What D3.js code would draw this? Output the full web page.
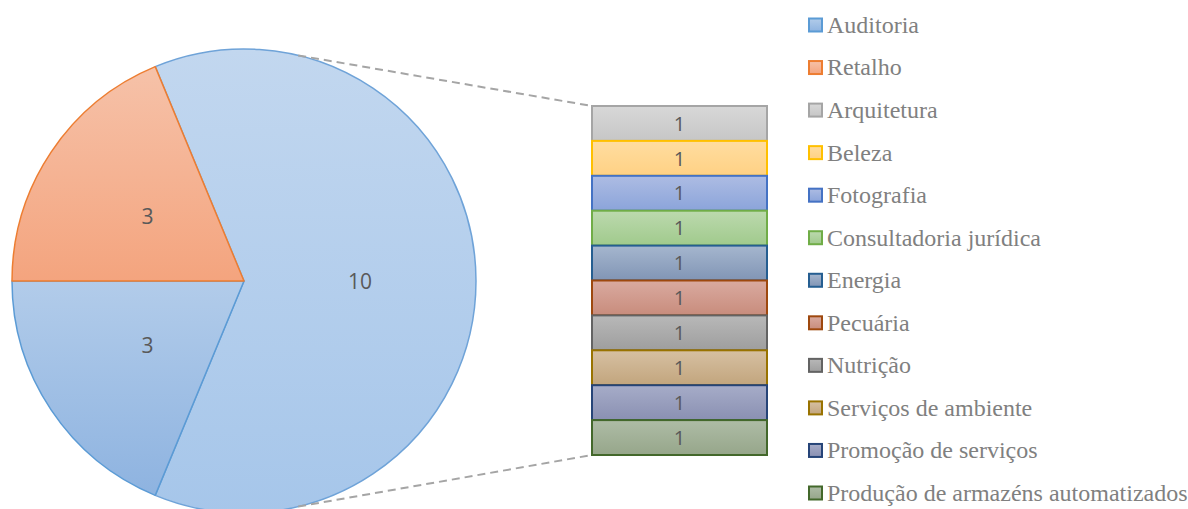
<!DOCTYPE html>
<html>
<head>
<meta charset="utf-8">
<script src="https://cdn.jsdelivr.net/npm/d3@7"></script>
<style>
  html, body { margin: 0; padding: 0; background: #fff; }
  svg { display: block; }
  .lbl { font-family: "Open Sans", "Noto Sans", sans-serif; fill: #595959; }
  .leg { font-family: "Liberation Serif", "DejaVu Serif", serif; font-size: 24px; fill: #808080; }
</style>
</head>
<body>
<div id="root"></div>
<script>
const svgWidth = 1188;
const svgHeight = 509;

// data
const categories = ["Auditoria", "Retalho", "Arquitetura", "Beleza", "Fotografia",
  "Consultadoria jurídica", "Energia", "Pecuária", "Nutrição",
  "Serviços de ambiente", "Promoção de serviços", "Produção de armazéns automatizados"];
const values = [3, 3, 1, 1, 1, 1, 1, 1, 1, 1, 1, 1];
const splitCount = 10; // last 10 go into the bar

// Office palette: stroke colour, gradient top, gradient bottom
const strokeColors = ["#5B9BD5", "#ED7D31", "#A5A5A5", "#FFC000", "#4472C4", "#70AD47",
  "#255E91", "#9E480E", "#636363", "#997300", "#264478", "#43682B"];
const fillTop = ["#B2CCEA", "#F6C2A9", "#D8D8D8", "#FFDDA0", "#ADBCE3", "#BCD9AE",
  "#A5B6CE", "#D9AAA0", "#B8B8B8", "#D6C0A2", "#A6ACC8", "#AEBCA6"];
const fillBottom = ["#8EB3E0", "#F4A47E", "#C6C6C6", "#FFD184", "#8BA4DA", "#A0CA8C",
  "#8195B5", "#C88C7C", "#9E9E9E", "#C2A57D", "#8A90B2", "#96A68A"];
const otherStroke = "#6FA3D8", otherTop = "#C2D7EF", otherBottom = "#A6C6EA";

const pieCats = categories.slice(0, categories.length - splitCount);
const pieVals = values.slice(0, values.length - splitCount);
const barCats = categories.slice(-splitCount);
const barVals = values.slice(-splitCount);
const pieData = pieVals.map((v, i) => ({ name: pieCats[i], value: v, idx: i }))
  .concat([{ name: "Outros", value: d3.sum(barVals), idx: -1 }]);

const cx = 244, cy = 281, radius = 232;
const connectorAngle = 76.5 * Math.PI / 180;
const barX = 592, barW = 175, barTop = 106, barBottom = 455;

const svg = d3.select("#root").append("svg")
  .attr("width", svgWidth).attr("height", svgHeight);

const defs = svg.append("defs");
const makeGrad = (id, top, bottom) => {
  const g = defs.append("linearGradient").attr("id", id)
    .attr("x1", 0).attr("y1", 0).attr("x2", 0).attr("y2", 1);
  g.append("stop").attr("offset", "0%").attr("stop-color", top);
  g.append("stop").attr("offset", "100%").attr("stop-color", bottom);
};
categories.forEach((c, i) => makeGrad("g" + i, fillTop[i], fillBottom[i]));
makeGrad("gOther", otherTop, otherBottom);

// pie
const pie = d3.pie().value(d => d.value).sort(null)
  .startAngle(202.5 * Math.PI / 180).endAngle(202.5 * Math.PI / 180 + 2 * Math.PI);
const arc = d3.arc().innerRadius(0).outerRadius(radius);
const arcs = pie(pieData);

const pieG = svg.append("g").attr("transform", `translate(${cx},${cy})`);
// draw "other" first so the smaller slices' edges sit on top
const order = arcs.slice().sort((a, b) => (a.data.idx === -1 ? -1 : 0) - (b.data.idx === -1 ? -1 : 0));
pieG.selectAll("path")
  .data(order)
  .join("path")
  .attr("d", arc)
  .attr("fill", d => d.data.idx === -1 ? "url(#gOther)" : `url(#g${d.data.idx})`)
  .attr("stroke", d => d.data.idx === -1 ? otherStroke : strokeColors[d.data.idx])
  .attr("stroke-width", 1.5)
  .attr("stroke-linejoin", "round");

pieG.selectAll("text")
  .data(arcs)
  .join("text")
  .attr("class", "lbl")
  .attr("x", d => arc.centroid(d)[0])
  .attr("y", d => arc.centroid(d)[1])
  .attr("dy", "0.36em")
  .attr("text-anchor", "middle")
  .style("font-size", "21px")
  .text(d => d.data.value);

// bar of pie
const yScale = d3.scaleLinear().domain([0, d3.sum(barVals)]).range([barTop, barBottom]);
const cum = d3.cumsum(barVals);
const barData = barVals.map((v, i) => ({ name: barCats[i], value: v, start: cum[i] - v, end: cum[i], idx: i + pieCats.length }));

// connector lines
const connectors = [
  { a: connectorAngle, y: yScale(0) },
  { a: -connectorAngle, y: yScale(d3.sum(barVals)) }
];
svg.selectAll("line.conn")
  .data(connectors)
  .join("line")
  .attr("class", "conn")
  .attr("x1", d => cx + radius * Math.cos(d.a))
  .attr("y1", d => cy - radius * Math.sin(d.a))
  .attr("x2", barX)
  .attr("y2", d => d.y)
  .attr("stroke", "#A5A5A5")
  .attr("stroke-width", 2)
  .attr("stroke-dasharray", "8,5");

const barG = svg.append("g");
barG.selectAll("rect")
  .data(barData)
  .join("rect")
  .attr("x", barX)
  .attr("y", d => yScale(d.start))
  .attr("width", barW)
  .attr("height", d => yScale(d.end) - yScale(d.start))
  .attr("fill", d => `url(#g${d.idx})`)
  .attr("stroke", d => strokeColors[d.idx])
  .attr("stroke-width", 2);

barG.selectAll("text")
  .data(barData)
  .join("text")
  .attr("class", "lbl")
  .attr("x", barX + barW / 2)
  .attr("y", d => (yScale(d.start) + yScale(d.end)) / 2)
  .attr("dy", "0.36em")
  .attr("text-anchor", "middle")
  .style("font-size", "20px")
  .text(d => d.value);

// legend
const legendY = d3.scalePoint().domain(categories).range([25, 493]);
const legend = svg.append("g").selectAll("g")
  .data(categories)
  .join("g")
  .attr("transform", d => `translate(808,${legendY(d)})`);
legend.append("rect")
  .attr("x", 1).attr("y", -6.5)
  .attr("width", 13).attr("height", 13)
  .attr("fill", (d, i) => `url(#g${i})`)
  .attr("stroke", (d, i) => strokeColors[i])
  .attr("stroke-width", 2);
legend.append("text")
  .attr("class", "leg")
  .attr("x", 19)
  .attr("dy", "0.33em")
  .text(d => d);
</script>
</body>
</html>
